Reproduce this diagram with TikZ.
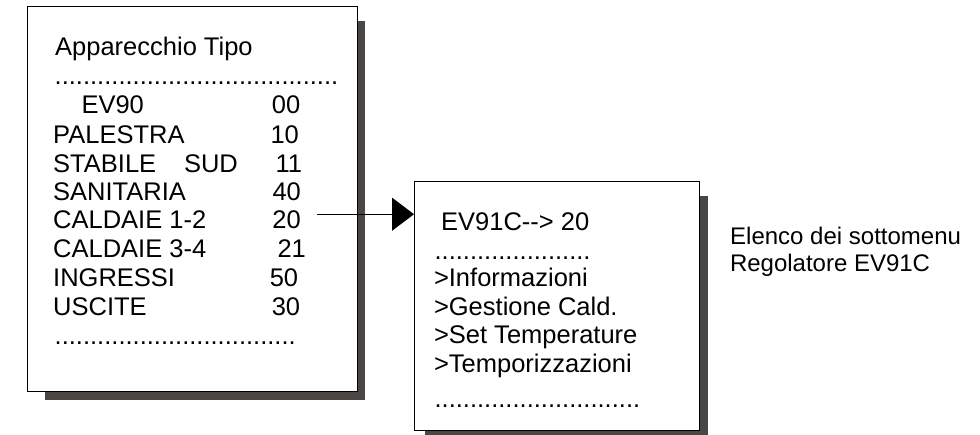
\documentclass[tikz,border=0pt]{standalone}
\usepackage{fontspec}
\setmainfont{Liberation Sans}
\usetikzlibrary{arrows.meta,backgrounds,calc}

% a run of #1 full stops, used for the dotted separator lines
\newcommand\dotrun[1]{\ifnum#1>0 .\expandafter\dotrun\expandafter{\the\numexpr#1-1\relax}\fi}

\definecolor{shadowgrey}{RGB}{74,70,68}

\begin{document}
\begin{tikzpicture}[x=1pt,y=-1pt,
  panel/.style={draw=black, line width=0.9pt, fill=white, anchor=north west, inner sep=0pt},
  dropshadow/.style={fill=shadowgrey},
  txt/.style={anchor=base west, inner sep=0pt, font=\fontsize{25.5}{29}\selectfont},
  note/.style={anchor=base west, inner sep=0pt, font=\fontsize{24}{27.6}\selectfont},
  link/.style={line width=0.9pt, -{Triangle[length=22pt,width=33pt]}}]

\useasboundingbox (0,0) rectangle (980,434);

% ---- device list panel ----
\node[panel, minimum width=330pt, minimum height=385pt] (list) at (27,6) {};
\node[txt] (title) at (55,55) {Apparecchio Tipo};
\node[txt] (dotsA) at (54.5,84.5) {\dotrun{40}};
\node[txt] (n1) at (81.3,113) {EV90};      \node[txt] (v1) at (271.7,113) {00};
\node[txt] (n2) at (53,143) {PALESTRA};    \node[txt] (v2) at (270.3,143) {10};
\node[txt] (n3) at (53,172) {STABILE};     \node[txt] (n3b) at (183.8,172) {SUD};
                                           \node[txt] (v3) at (275.3,172) {11};
\node[txt] (n4) at (53,200) {SANITARIA};   \node[txt] (v4) at (272.3,200) {40};
\node[txt] (n5) at (53,228) {CALDAIE 1-2}; \node[txt] (v5) at (272.2,228) {20};
\node[txt] (n6) at (53,257) {CALDAIE 3-4}; \node[txt] (v6) at (277.3,257) {21};
\node[txt] (n7) at (53,286) {INGRESSI};    \node[txt] (v7) at (269.6,286) {50};
\node[txt] (n8) at (53,315) {USCITE};      \node[txt] (v8) at (271.6,315) {30};
\node[txt] (dotsB) at (54.5,344.5) {\dotrun{34}};

% ---- submenu panel ----
\node[panel, minimum width=285pt, minimum height=249pt] (sub) at (414,181) {};
\node[txt] (head) at (441,230) {EV91C{-}{-}> 20};
\node[txt] (dotsC) at (434.4,259.5) {\dotrun{22}};
\node[txt] (m1) at (433.8,286.7) {>Informazioni};
\node[txt] (m2) at (433.8,315) {>Gestione Cald.};
\node[txt] (m3) at (433.8,343.5) {>Set Temperature};
\node[txt] (m4) at (433.8,372) {>Temporizzazioni};
\node[txt] (dotsD) at (434.4,407) {\dotrun{29}};

% ---- side note ----
\node[note] (note1) at (730,244.5) {Elenco dei sottomenu};
\node[note] (note2) at (729.8,271.7) {Regolatore EV91C};

% ---- drop shadows ----
\begin{scope}[on background layer]
  \fill[dropshadow] ($(list.north west)+(18,15)$) rectangle ($(list.south east)+(7,8)$);
  \fill[dropshadow] ($(sub.north west)+(11,15)$) rectangle ($(sub.south east)+(8,4)$);
\end{scope}

% ---- connector from entry 20 to its submenu ----
\coordinate (tail) at ($(v5.east)+(16,-5)$);
\coordinate (tip) at (sub.west |- tail);
\draw[link] (tail) -- (tip);
\end{tikzpicture}
\end{document}
